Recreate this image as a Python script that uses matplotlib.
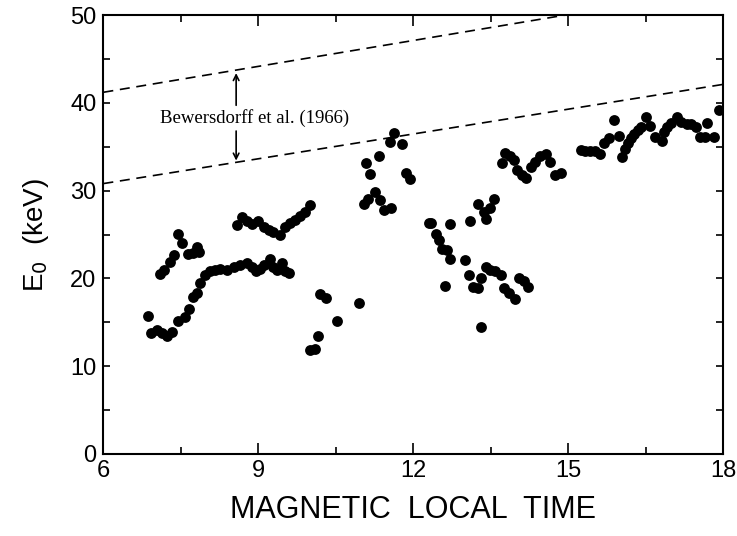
# E0 versus magnetic local time, with the Bewersdorff et al. (1966) band
import numpy as np
import matplotlib.pyplot as plt
from matplotlib.ticker import MultipleLocator

plt.rcParams['font.family'] = ['Liberation Sans', 'DejaVu Sans']

# Data (hours MLT, keV)
mlt = [6.86, 6.92, 7.03, 7.13, 7.23, 7.32, 7.45, 7.58, 7.66, 7.74, 7.82, 7.87,
       7.97, 8.07, 8.16, 8.26, 8.39, 8.52, 8.65, 8.78, 8.87, 8.96, 9.03, 9.11,
       9.23, 9.29, 9.36, 9.46, 9.52, 9.60,
       7.10, 7.17, 7.28, 7.37, 7.45, 7.52, 7.63, 7.73, 7.81, 7.86,
       8.58, 8.68, 8.78, 8.87, 9.00, 9.10, 9.20, 9.29, 9.42, 9.52, 9.62, 9.71,
       9.81, 9.91, 10.00,
       10.00, 10.10, 10.16, 10.20, 10.31, 10.52, 10.94,
       11.04, 11.13, 11.26, 11.36, 11.44, 11.57, 11.09, 11.17, 11.33, 11.54,
       11.63, 11.78, 11.86, 11.94,
       12.30, 12.34, 12.43, 12.49, 12.56, 12.65, 12.72, 12.62, 12.72, 13.01,
       13.07, 13.16, 13.25, 13.31, 13.32, 13.09, 13.25, 13.36, 13.41, 13.48,
       13.57, 13.40, 13.49, 13.59, 13.69, 13.76, 13.85, 13.96, 14.04, 14.14,
       14.23,
       13.72, 13.78, 13.88, 13.94, 14.01, 14.11, 14.19, 14.28, 14.36, 14.46,
       14.56, 14.65, 14.75, 14.85,
       15.24, 15.33, 15.43, 15.52, 15.61, 15.70, 15.78, 15.88, 15.98, 16.04,
       16.09, 16.15, 16.22, 16.28, 16.35, 16.41, 16.50, 16.58, 16.67, 16.82,
       16.85, 16.92, 16.99, 17.10, 17.19, 17.29, 17.38, 17.47, 17.55, 17.64,
       17.68, 17.82, 17.92]
e0 = [15.7, 13.8, 14.1, 13.8, 13.4, 13.9, 15.1, 15.6, 16.5, 17.9, 18.3, 19.5,
      20.4, 20.8, 21.0, 21.1, 21.0, 21.3, 21.5, 21.7, 21.3, 20.8, 21.1, 21.5,
      22.2, 21.3, 21.0, 21.7, 20.8, 20.6,
      20.5, 21.0, 21.9, 22.7, 25.1, 24.0, 22.8, 22.9, 23.6, 23.0,
      26.1, 27.0, 26.5, 26.2, 26.5, 25.9, 25.5, 25.3, 24.9, 25.9, 26.3, 26.7,
      27.1, 27.6, 28.4,
      11.9, 12.0, 13.4, 18.2, 17.8, 15.1, 17.2,
      28.5, 29.1, 29.8, 28.9, 27.8, 28.0, 33.2, 31.9, 33.9, 35.5,
      36.6, 35.3, 32.0, 31.3,
      26.3, 26.3, 25.1, 24.4, 23.4, 23.2, 22.2, 19.1, 26.2, 22.1,
      20.4, 19.0, 18.9, 20.0, 14.5, 26.5, 28.5, 27.6, 26.8, 28.0,
      29.1, 21.3, 21.0, 20.8, 20.4, 18.9, 18.3, 17.6, 20.0, 19.7,
      19.0,
      33.2, 34.3, 33.9, 33.5, 32.3, 31.8, 31.4, 32.7, 33.3, 33.9,
      34.2, 33.3, 31.8, 32.0,
      34.6, 34.5, 34.5, 34.5, 34.2, 35.4, 36.0, 38.0, 36.2, 33.8,
      34.7, 35.4, 36.0, 36.5, 36.9, 37.3, 38.4, 37.4, 36.1, 35.6,
      36.7, 37.3, 37.7, 38.4, 37.8, 37.6, 37.6, 37.3, 36.1, 36.1,
      37.7, 36.1, 39.2]

# Bewersdorff et al. (1966) limits
band_x = [6, 18]
band_hi = [41.2, 53.0]
band_lo = [30.8, 42.1]

fig = plt.figure(figsize=(7.37, 5.36), dpi=100)
ax = fig.add_axes([0.1403, 0.153, 0.841, 0.819])

ax.plot(mlt, e0, 'o', color='black', markersize=7.8, markeredgewidth=0)
ax.plot(band_x, band_hi, '--', color='black', lw=1.2, dashes=(6, 4))
ax.plot(band_x, band_lo, '--', color='black', lw=1.2, dashes=(6, 4))

ax.annotate('', xy=(8.57, 43.7), xytext=(8.57, 39.4),
            arrowprops=dict(arrowstyle='->', color='black', lw=1.2))
ax.annotate('', xy=(8.57, 33.1), xytext=(8.57, 37.1),
            arrowprops=dict(arrowstyle='->', color='black', lw=1.2))
ax.text(8.92, 38.3, 'Bewersdorff et al. (1966)', ha='center', va='center',
        fontsize=13.5, family=['Liberation Serif', 'DejaVu Serif'],
        bbox=dict(facecolor='white', edgecolor='none', pad=0.5))

ax.set_xlim(6, 18)
ax.set_ylim(0, 50)
ax.xaxis.set_major_locator(MultipleLocator(3))
ax.xaxis.set_minor_locator(MultipleLocator(1.5))
ax.yaxis.set_major_locator(MultipleLocator(10))
ax.yaxis.set_minor_locator(MultipleLocator(5))
ax.tick_params(which='both', direction='in', top=True, right=True,
               labelsize=17, width=1.2)
ax.tick_params(axis='x', which='major', length=8, pad=4)
ax.tick_params(axis='x', which='minor', length=5)
ax.tick_params(axis='y', which='both', length=5, pad=5)
for s in ax.spines.values():
    s.set_linewidth(1.5)

ax.set_xlabel('MAGNETIC  LOCAL  TIME', fontsize=22, labelpad=10)
ax.set_ylabel('E$_0$  (keV)', fontsize=20, labelpad=14)

plt.savefig('out.png', dpi=100)
